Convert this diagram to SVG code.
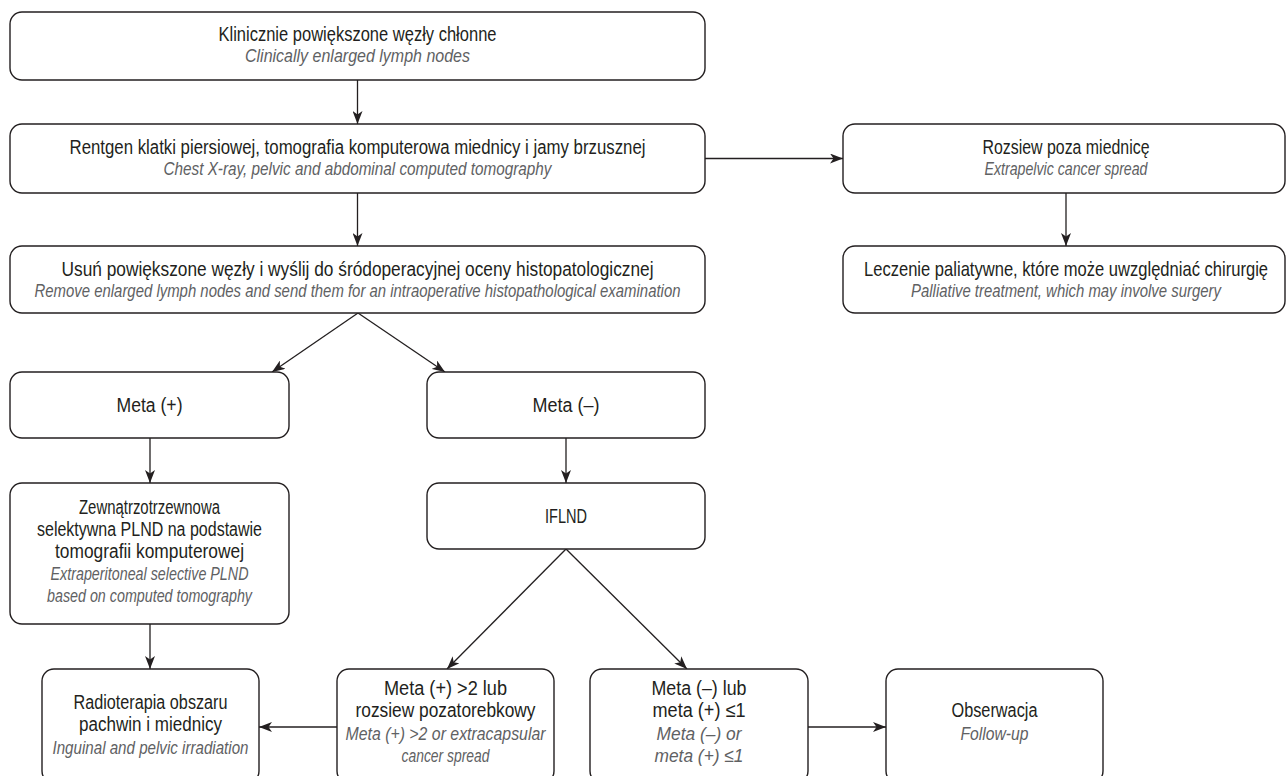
<svg xmlns="http://www.w3.org/2000/svg" width="1287" height="776" viewBox="0 0 1287 776">
<defs>
<style>
.box{fill:#fff;stroke:#231f20;stroke-width:1.4}
.pl{font-family:"Liberation Sans Narrow","Liberation Sans",Arial,sans-serif;font-size:20px;fill:#231f20;text-anchor:middle}
.en{font-family:"Liberation Sans Narrow","Liberation Sans",Arial,sans-serif;font-size:19px;font-style:italic;fill:#606163;text-anchor:middle}
.c{fill:none;stroke:#231f20;stroke-width:1.3;marker-end:url(#ah)}
</style>
<marker id="ah" viewBox="0 0 13 10" refX="13" refY="5" markerWidth="13" markerHeight="10" markerUnits="userSpaceOnUse" orient="auto">
<path d="M0,0 L13,5 L0,10 L3.5,5 Z" fill="#231f20"/>
</marker>
</defs>
<rect width="1287" height="776" fill="#fff"/>
<g id="connectors">
<line class="c" x1="357.5" y1="80" x2="357.5" y2="124"/>
<line class="c" x1="357.5" y1="193" x2="357.5" y2="246"/>
<line class="c" x1="705" y1="158.5" x2="843" y2="158.5"/>
<line class="c" x1="1066" y1="193" x2="1066" y2="246"/>
<line class="c" x1="358" y1="313" x2="272" y2="372"/>
<line class="c" x1="358" y1="313" x2="445" y2="372"/>
<line class="c" x1="150" y1="438" x2="150" y2="483"/>
<line class="c" x1="566" y1="438" x2="566" y2="483"/>
<line class="c" x1="566" y1="549" x2="447" y2="669"/>
<line class="c" x1="566" y1="549" x2="687" y2="669"/>
<line class="c" x1="150" y1="624" x2="150" y2="669"/>
<line class="c" x1="337" y1="727" x2="259" y2="727"/>
<line class="c" x1="808" y1="727" x2="886" y2="727"/>
</g>
<g id="n1">
<rect class="box" x="10" y="12" width="695" height="68" rx="12"/>
<text class="pl" x="357.5" y="41" textLength="278" lengthAdjust="spacingAndGlyphs">Klinicznie powiększone węzły chłonne</text>
<text class="en" x="357.5" y="62" textLength="225" lengthAdjust="spacingAndGlyphs">Clinically enlarged lymph nodes</text>
</g>
<g id="n2">
<rect class="box" x="10" y="124" width="695" height="69" rx="12"/>
<text class="pl" x="357.5" y="154" textLength="576" lengthAdjust="spacingAndGlyphs">Rentgen klatki piersiowej, tomografia komputerowa miednicy i jamy brzusznej</text>
<text class="en" x="357.5" y="175" textLength="388" lengthAdjust="spacingAndGlyphs">Chest X-ray, pelvic and abdominal computed tomography</text>
</g>
<g id="n3">
<rect class="box" x="843" y="124" width="442" height="69" rx="12"/>
<text class="pl" x="1066" y="154" textLength="167" lengthAdjust="spacingAndGlyphs">Rozsiew poza miednicę</text>
<text class="en" x="1066" y="175" textLength="163" lengthAdjust="spacingAndGlyphs">Extrapelvic cancer spread</text>
</g>
<g id="n5">
<rect class="box" x="843" y="246" width="442" height="67" rx="12"/>
<text class="pl" transform="translate(1066 276) scale(0.84 1)" x="0" y="0" textLength="481" lengthAdjust="spacingAndGlyphs">Leczenie paliatywne, które może uwzględniać chirurgię</text>
<text class="en" transform="translate(1066 297) scale(0.84 1)" x="0" y="0" textLength="369" lengthAdjust="spacingAndGlyphs">Palliative treatment, which may involve surgery</text>
</g>
<g id="n4">
<rect class="box" x="10" y="246" width="695" height="67" rx="12"/>
<text class="pl" x="357.5" y="276" textLength="592" lengthAdjust="spacingAndGlyphs">Usuń powiększone węzły i wyślij do śródoperacyjnej oceny histopatologicznej</text>
<text class="en" x="357.5" y="297" textLength="646" lengthAdjust="spacingAndGlyphs">Remove enlarged lymph nodes and send them for an intraoperative histopathological examination</text>
</g>
<g id="n6">
<rect class="box" x="10" y="372" width="279" height="66" rx="12"/>
<text class="pl" x="149.5" y="412" textLength="66" lengthAdjust="spacingAndGlyphs">Meta (+)</text>
</g>
<g id="n7">
<rect class="box" x="427" y="372" width="278" height="66" rx="12"/>
<text class="pl" x="566" y="412" textLength="67" lengthAdjust="spacingAndGlyphs">Meta (–)</text>
</g>
<g id="n8">
<rect class="box" x="10" y="483" width="279" height="141" rx="12"/>
<text class="pl" x="149.5" y="514" textLength="141" lengthAdjust="spacingAndGlyphs">Zewnątrzotrzewnowa</text>
<text class="pl" x="149.5" y="536" textLength="225" lengthAdjust="spacingAndGlyphs">selektywna PLND na podstawie</text>
<text class="pl" x="149.5" y="558" textLength="189" lengthAdjust="spacingAndGlyphs">tomografii komputerowej</text>
<text class="en" x="149.5" y="580" textLength="198" lengthAdjust="spacingAndGlyphs">Extraperitoneal selective PLND</text>
<text class="en" x="149.5" y="602" textLength="205" lengthAdjust="spacingAndGlyphs">based on computed tomography</text>
</g>
<g id="n9">
<rect class="box" x="427" y="483" width="278" height="66" rx="12"/>
<text class="pl" x="566" y="523" textLength="42" lengthAdjust="spacingAndGlyphs">IFLND</text>
</g>
<g id="n10">
<rect class="box" x="42" y="669" width="217" height="114" rx="12"/>
<text class="pl" x="150.5" y="709" textLength="154" lengthAdjust="spacingAndGlyphs">Radioterapia obszaru</text>
<text class="pl" x="150.5" y="731" textLength="143" lengthAdjust="spacingAndGlyphs">pachwin i miednicy</text>
<text class="en" x="150.5" y="754" textLength="196" lengthAdjust="spacingAndGlyphs">Inguinal and pelvic irradiation</text>
</g>
<g id="n11">
<rect class="box" x="337" y="669" width="217" height="114" rx="12"/>
<text class="pl" x="445.5" y="695" textLength="123" lengthAdjust="spacingAndGlyphs">Meta (+) &gt;2 lub</text>
<text class="pl" x="445.5" y="717" textLength="180" lengthAdjust="spacingAndGlyphs">rozsiew pozatorebkowy</text>
<text class="en" x="445.5" y="740" textLength="200" lengthAdjust="spacingAndGlyphs">Meta (+) &gt;2 or extracapsular</text>
<text class="en" x="445.5" y="762" textLength="88" lengthAdjust="spacingAndGlyphs">cancer spread</text>
</g>
<g id="n12">
<rect class="box" x="590" y="669" width="218" height="114" rx="12"/>
<text class="pl" x="699" y="695" textLength="95" lengthAdjust="spacingAndGlyphs">Meta (–) lub</text>
<text class="pl" x="699" y="717" textLength="93" lengthAdjust="spacingAndGlyphs">meta (+) ≤1</text>
<text class="en" x="699" y="740" textLength="85" lengthAdjust="spacingAndGlyphs">Meta (–) or</text>
<text class="en" x="699" y="762" textLength="89" lengthAdjust="spacingAndGlyphs">meta (+) ≤1</text>
</g>
<g id="n13">
<rect class="box" x="886" y="669" width="217" height="114" rx="12"/>
<text class="pl" x="994.5" y="717" textLength="86" lengthAdjust="spacingAndGlyphs">Obserwacja</text>
<text class="en" x="994.5" y="740" textLength="68" lengthAdjust="spacingAndGlyphs">Follow-up</text>
</g>
</svg>
